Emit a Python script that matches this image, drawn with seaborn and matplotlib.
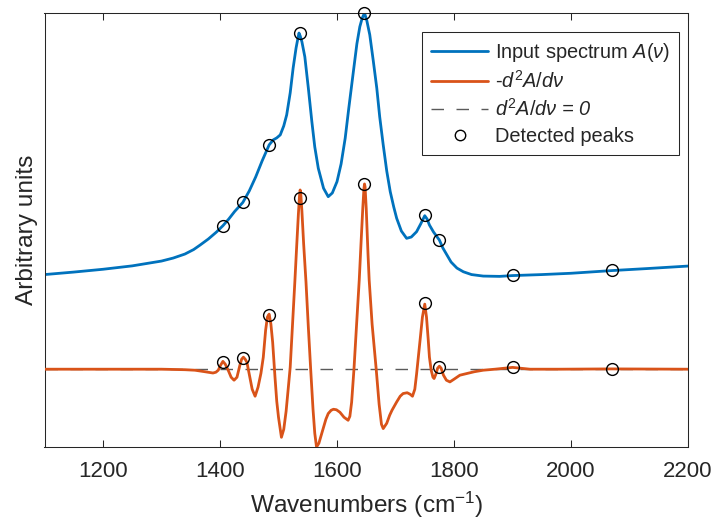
import matplotlib
matplotlib.use("Agg")
import matplotlib.pyplot as plt
import seaborn as sns
from matplotlib.lines import Line2D

# ---------------- data ----------------
wn_spectrum = [1100, 1150, 1200, 1250, 1300, 1320, 1340, 1355, 1366, 1380,
               1394, 1405, 1415, 1425, 1439, 1450, 1461, 1472, 1484, 1491,
               1497, 1503, 1509, 1514, 1520, 1525, 1530, 1533, 1535, 1537,
               1540, 1545, 1551, 1557, 1562, 1568, 1577, 1585, 1592, 1600,
               1607, 1614, 1620, 1628, 1634, 1639, 1643, 1647, 1651, 1656,
               1662, 1668, 1673, 1679, 1685, 1691, 1697, 1702, 1710, 1719,
               1727, 1736, 1743, 1750, 1754, 1758, 1765, 1770, 1775, 1781,
               1787, 1795, 1805, 1816, 1830, 1850, 1878, 1900, 1950, 2000,
               2070, 2130, 2200]
spectrum = [0.945, 0.970, 0.998, 1.032, 1.080, 1.110, 1.150, 1.195, 1.240, 1.300,
            1.370, 1.433, 1.500, 1.575, 1.665, 1.780, 1.920, 2.080, 2.240, 2.290,
            2.310, 2.340, 2.430, 2.540, 2.760, 3.007, 3.207, 3.300, 3.357, 3.330,
            3.270, 3.120, 2.807, 2.473, 2.220, 2.007, 1.807, 1.723, 1.760, 1.873,
            2.050, 2.307, 2.600, 2.973, 3.250, 3.420, 3.505, 3.557, 3.480, 3.340,
            3.080, 2.807, 2.520, 2.240, 1.980, 1.773, 1.620, 1.507, 1.380, 1.307,
            1.320, 1.373, 1.450, 1.533, 1.500, 1.440, 1.370, 1.330, 1.290, 1.210,
            1.150, 1.070, 1.010, 0.973, 0.945, 0.930, 0.927, 0.935, 0.945, 0.958,
            0.985, 1.005, 1.030]

wn_second = [1100, 1200, 1300, 1340, 1357, 1374, 1388, 1393, 1397, 1401,
             1405, 1409, 1414, 1419, 1424, 1429, 1434, 1437, 1440, 1443,
             1446, 1451, 1455, 1460, 1465, 1470, 1474, 1478, 1481, 1484,
             1487, 1490, 1494, 1497, 1500, 1505, 1509, 1513, 1517, 1520,
             1524, 1528, 1531, 1534, 1536, 1537, 1538, 1540, 1543, 1547,
             1551, 1555, 1559, 1562, 1565, 1569, 1573, 1577, 1581, 1585,
             1590, 1594, 1599, 1605, 1612, 1619, 1622, 1625, 1629, 1633,
             1638, 1641, 1644, 1646, 1647, 1648, 1650, 1653, 1655, 1660,
             1667, 1672, 1676, 1679, 1685, 1690, 1694, 1702, 1708, 1713,
             1720, 1725, 1729, 1733, 1736, 1739, 1742, 1746, 1750, 1753,
             1756, 1758, 1761, 1764, 1766, 1769, 1772, 1775, 1778, 1782,
             1787, 1793, 1800, 1810, 1822, 1835, 1850, 1870, 1890, 1900,
             1910, 1930, 1980, 2070, 2200]
neg_second_deriv = [0.000, 0.000, 0.000, -0.005, -0.010, -0.025, -0.038, -0.030, -0.010, 0.040,
                    0.078, 0.050, -0.010, -0.080, -0.110, -0.080, 0.040, 0.100, 0.120, 0.100,
                    0.070, -0.080, -0.200, -0.270, -0.180, -0.040, 0.120, 0.390, 0.520, 0.550,
                    0.450, 0.270, -0.080, -0.320, -0.480, -0.680, -0.600, -0.420, -0.170, 0.020,
                    0.450, 0.880, 1.220, 1.550, 1.740, 1.790, 1.760, 1.580, 1.250, 0.870,
                    0.420, 0.000, -0.400, -0.640, -0.777, -0.740, -0.660, -0.580, -0.500, -0.443,
                    -0.410, -0.400, -0.405, -0.430, -0.480, -0.510, -0.470, -0.330, 0.000, 0.400,
                    0.890, 1.250, 1.600, 1.800, 1.850, 1.820, 1.600, 1.150, 0.890, 0.450,
                    0.000, -0.350, -0.550, -0.593, -0.540, -0.460, -0.410, -0.327, -0.270, -0.243,
                    -0.235, -0.250, -0.270, -0.200, -0.050, 0.120, 0.290, 0.520, 0.650, 0.520,
                    0.290, 0.120, -0.010, -0.080, -0.093, -0.050, 0.010, 0.030, 0.010, -0.060,
                    -0.110, -0.127, -0.100, -0.060, -0.043, -0.025, -0.010, 0.000, 0.012, 0.018,
                    0.012, 0.000, 0.000, 0.003, 0.000]

peak_wn = [1405, 1439, 1484, 1536, 1647, 1750, 1775, 1900, 2070]
peak_spectrum = [1.433, 1.665, 2.240, 3.357, 3.557, 1.535, 1.290, 0.940, 0.987]
peak_second = [0.067, 0.107, 0.540, 1.707, 1.850, 0.663, 0.023, 0.023, 0.003]
zero_level = 0.0

x_ticks = [1200, 1400, 1600, 1800, 2000, 2200]
x_range = [1100, 2200]

labels = ["Input spectrum $A(\\nu)$",
          "-$d^2A/d\\nu$",
          "$d^2A/d\\nu$ = 0",
          "Detected peaks"]

# ---------------- style ----------------
sns.set_style("white")
plt.rcParams["font.family"] = ["Liberation Sans", "DejaVu Sans"]
plt.rcParams["mathtext.fontset"] = "custom"
plt.rcParams["mathtext.rm"] = "Liberation Sans"
plt.rcParams["mathtext.it"] = "Liberation Sans:italic"
plt.rcParams["mathtext.bf"] = "Liberation Sans:bold"

BLUE = "#0072BD"
ORANGE = "#D95319"
AX_COL = "#262626"

fig = plt.figure(figsize=(7.12, 5.23), dpi=100)
ax = fig.add_axes([0.0625, 0.1453, 0.9038, 0.8298])

ax.axhline(zero_level, color="#5a5a5a", lw=1.0, dashes=(9, 9), zorder=1)
sns.lineplot(x=wn_spectrum, y=spectrum, ax=ax, color=BLUE, lw=2.0,
             sort=False, estimator=None, legend=False, zorder=2)
sns.lineplot(x=wn_second, y=neg_second_deriv, ax=ax, color=ORANGE, lw=2.0,
             sort=False, estimator=None, legend=False, zorder=3)
sns.lineplot(x=peak_wn + peak_wn, y=peak_spectrum + peak_second, ax=ax,
             color="black", linestyle="", marker="o", markersize=8.5,
             markerfacecolor="none", markeredgecolor="black", markeredgewidth=1.0,
             sort=False, estimator=None, legend=False, zorder=4, clip_on=False)

ax.set_xlim(x_range)
ax.set_ylim(min(neg_second_deriv), max(spectrum))
ax.set_xticks(x_ticks)
ax.set_yticks([])
ax.tick_params(axis="x", direction="in", top=True, bottom=True, length=4.7,
               width=0.75, labelsize=16, pad=10, colors=AX_COL)
for s in ax.spines.values():
    s.set_visible(True)
    s.set_color(AX_COL)
    s.set_linewidth(0.75)

ax.set_xlabel("Wavenumbers (cm$^{-1}$)", fontsize=17.6, color=AX_COL, labelpad=6)
ax.set_ylabel("Arbitrary units", fontsize=17.6, color=AX_COL, labelpad=5)

handles = [Line2D([], [], color=BLUE, lw=2.0),
           Line2D([], [], color=ORANGE, lw=2.0),
           Line2D([], [], color="#5a5a5a", lw=1.0, dashes=(9, 9)),
           Line2D([], [], ls="", marker="o", markersize=7.5,
                  markerfacecolor="none", markeredgecolor="black", markeredgewidth=1.0)]
leg = ax.legend(handles, labels, loc="upper right", bbox_to_anchor=(0.9865, 0.957),
                borderaxespad=0, fontsize=14.4, frameon=True, fancybox=False,
                edgecolor=AX_COL, framealpha=1, handlelength=2.85,
                handletextpad=0.35, labelspacing=0.32, borderpad=0.45)
leg.get_frame().set_linewidth(0.75)
leg.get_texts()[2].set_fontstyle("italic")

fig.savefig("out.png", dpi=100)
